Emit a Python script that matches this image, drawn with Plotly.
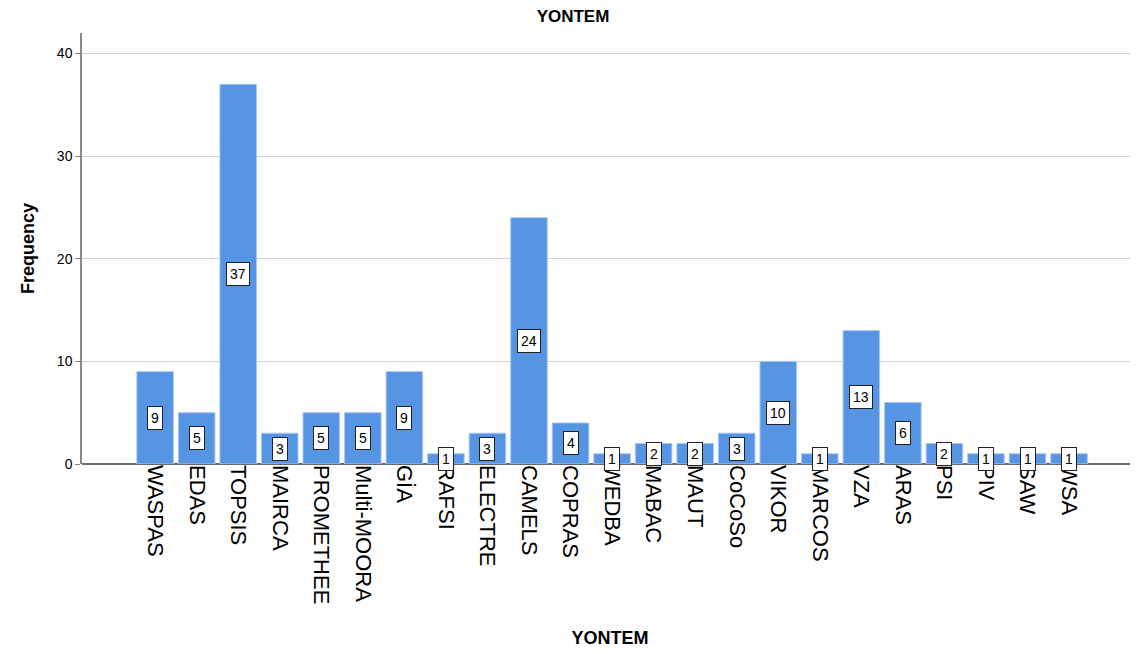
import plotly.graph_objects as go

categories = ["WASPAS", "EDAS", "TOPSIS", "MAIRCA", "PROMETHEE", "Multi-MOORA", "GİA",
              "RAFSI", "ELECTRE", "CAMELS", "COPRAS", "WEDBA", "MABAC", "MAUT", "CoCoSo",
              "VIKOR", "MARCOS", "VZA", "ARAS", "PSI", "PIV", "SAW", "WSA"]
frequency = [9, 5, 37, 3, 5, 5, 9, 1, 3, 24, 4, 1, 2, 2, 3, 10, 1, 13, 6, 2, 1, 1, 1]
y_ticks = [0, 10, 20, 30, 40]

fig = go.Figure()
fig.add_trace(go.Bar(
    x=categories, y=frequency,
    marker=dict(color="#5694E4", line=dict(color="#a9c8f0", width=1)),
    width=0.88,
))

for c, v in zip(categories, frequency):
    fig.add_annotation(
        x=c, y=v / 2, text=str(v), showarrow=False,
        font=dict(family="Arial", size=14, color="#000"),
        bgcolor="white", bordercolor="#222", borderwidth=1, borderpad=3,
    )

fig.update_layout(
    width=1130, height=646,
    paper_bgcolor="white", plot_bgcolor="white",
    margin=dict(l=74, r=0, t=25, b=190, autoexpand=False),
    showlegend=False,
    title=dict(text="<b>YONTEM</b>", x=0.5, xanchor="center", y=0.988, yanchor="middle",
               font=dict(family="Arial", size=17, color="#000")),
    font=dict(family="Arial", color="#000"),
)
fig.update_xaxes(
    range=[-1.76, 23.66], tickangle=90, tickfont=dict(family="Arial", size=22, color="#000"),
    showline=False, ticks="", showgrid=False, automargin=False,
    title=dict(text="<b>YONTEM</b>", font=dict(family="Arial", size=18, color="#000"), standoff=28),
)
fig.update_yaxes(
    range=[0, 42], tickvals=y_ticks, tickfont=dict(family="Arial", size=14, color="#000"),
    showgrid=True, gridcolor="#d4d4d4", gridwidth=1, automargin=False,
    showline=True, linecolor="#888", linewidth=1.5, ticks="outside", ticklen=5, tickcolor="#888",
    zeroline=True, zerolinecolor="#666", zerolinewidth=1.5,
    title=dict(text="<b>Frequency</b>", font=dict(family="Arial", size=18, color="#000"), standoff=18),
)

fig.write_html("out.html")
